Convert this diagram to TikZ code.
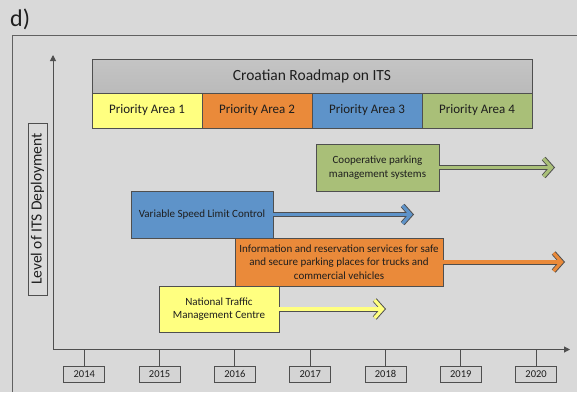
\documentclass[tikz,border=0pt]{standalone}
\usepackage{fontspec}
\setmainfont{Carlito}
\usepackage{xcolor}
\usepackage{tikz}
\usetikzlibrary{positioning,arrows.meta}
\definecolor{canvas}{HTML}{D9D9D9}
\definecolor{edge}{HTML}{4F4F4F}
\definecolor{ink}{HTML}{1E1E1E}
\definecolor{titlegray}{HTML}{BABABA}
\definecolor{payellow}{HTML}{FFFF80}
\definecolor{paorange}{HTML}{EA8A3A}
\definecolor{pablue}{HTML}{5E93C9}
\definecolor{pagreen}{HTML}{A9BF78}
\newcommand{\fs}[2]{\fontsize{#1}{#2}\selectfont}
\tikzset{
  box/.style={draw=edge,line width=0.8pt,outer sep=0pt,inner sep=2pt,
              align=center,text=ink,font=\fs{11}{13.3}},
  pabox/.style={box,minimum width=110pt,minimum height=35pt,font=\fs{13}{15}},
  yearbox/.style={box,fill=black!17,minimum width=41pt,minimum height=16pt,
                  inner sep=0pt,font=\fs{10.5}{12}},
  axisline/.style={draw=edge,line width=1pt},
  arrowedge/.style={draw=edge,line width=5pt,
                    -{Straight Barb[length=8pt,width=18pt]}},
  arrowbody/.style={draw=#1,line width=3.2pt,shorten >=1.3pt,
                    -{Straight Barb[length=8pt,width=18pt]}}
}
\newcommand{\roadarrow}[3]{%
  \draw[arrowedge] (#1) -- (#2);
  \draw[arrowbody=#3] (#1) -- (#2);}

\begin{document}
\begin{tikzpicture}[x=1pt,y=1pt]
    \useasboundingbox (0,0) rectangle (577,-392);
    \fill[canvas] (0,0) rectangle (577,-392);
    \node[anchor=base west,inner sep=0pt,text=ink,font=\fs{24}{28}]
      (tag) at (10,-26) {d)};
    \draw[draw=edge!90,line width=0.9pt] (577,-35) -- (12,-35) -- (12,-392);

    % axes
    \coordinate (origin) at (53,-349.5);
    \coordinate (ytip) at (53,-55);
    \coordinate (xtip) at (570,-349.5);
    \foreach \yr in {2014,...,2020}{
      \node[yearbox] (y\yr) at ({84.3+75.3*(\yr-2014)},-374) {\yr};
      \draw[axisline] (y\yr.north) -- (y\yr.north |- origin);
    }
    \draw[axisline,-{Triangle[length=6pt,width=6pt]}] (origin) -- (ytip);
    \draw[axisline,-{Triangle[length=6pt,width=6pt]}] (origin) -- (xtip);
    \node[box,rotate=90,fill=canvas!95!white,minimum width=172pt,
          minimum height=19pt,inner sep=0pt,font=\fs{15.5}{18}]
      (ylab) at (37.5,-209) {Level of ITS Deployment};

    % roadmap header
    \node[box,top color=titlegray!85!white,bottom color=titlegray,
          minimum width=440pt,minimum height=34pt,font=\fs{15.5}{18}]
      (title) at (312,-76) {Croatian Roadmap on ITS};
    \node[pabox,fill=payellow,anchor=north west] (pa1) at (title.south west)
      {Priority Area 1};
    \node[pabox,fill=paorange,right=0pt of pa1] (pa2) {Priority Area 2};
    \node[pabox,fill=pablue,right=0pt of pa2] (pa3) {Priority Area 3};
    \node[pabox,fill=pagreen,right=0pt of pa3] (pa4) {Priority Area 4};

    % measures
    \node[box,fill=pagreen,minimum width=123pt,minimum height=47pt]
      (coop) at (377.5,-167.5) {Cooperative parking\\management systems};
    \node[box,fill=pablue,minimum width=142pt,minimum height=47pt]
      (vslc) at (202,-214.5) {Variable Speed Limit Control};
    \node[box,fill=paorange,minimum width=208pt,minimum height=48pt]
      (info) at (339,-262) {Information and reservation services for safe\\
        and secure parking places for trucks and\\commercial vehicles};
    \node[box,fill=payellow,minimum width=120pt,minimum height=46pt]
      (ntmc) at (219,-309) {National Traffic\\Management Centre};

    \coordinate (coopEnd) at (555,-167.5);
    \coordinate (vslcEnd) at (414,-214.5);
    \coordinate (infoEnd) at (565,-262);
    \coordinate (ntmcEnd) at (386,-309);
    \roadarrow{coop.east}{coopEnd}{pagreen}
    \roadarrow{vslc.east}{vslcEnd}{pablue}
    \roadarrow{info.east}{infoEnd}{paorange}
    \roadarrow{ntmc.east}{ntmcEnd}{payellow}
  \end{tikzpicture}
\end{document}
